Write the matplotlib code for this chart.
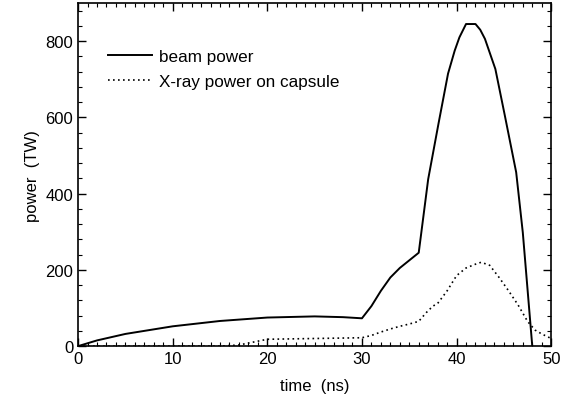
import matplotlib
matplotlib.use("Agg")
import matplotlib.pyplot as plt
from matplotlib.ticker import MultipleLocator

plt.rcParams['font.family'] = ['Liberation Sans', 'DejaVu Sans']

beam_t = [0, 2, 5, 10, 15, 20, 25, 28, 30, 31, 32, 33, 34, 35, 36, 37, 38.1, 39.1, 39.8, 40.3, 41, 42, 42.5, 43, 44.1, 45.1, 46.3, 47, 48]
beam_p = [0, 15, 32, 52, 66, 75, 78, 76, 73, 105, 145, 180, 205, 225, 245, 438, 585, 715, 775, 810, 845, 845, 830, 806, 727, 605, 456, 298, 0]

xray_t = [0, 15, 17, 19, 20, 25, 30, 31, 32, 33, 34, 35, 36, 36.8, 37.5, 38, 39, 40, 41, 42, 42.6, 43.5, 44.5, 45.5, 46.5, 47.5, 48.3, 49, 50]
xray_p = [0, 0, 3, 13, 18, 20, 22, 28, 37, 45, 52, 58, 65, 88, 105, 112, 145, 185, 205, 215, 220, 212, 180, 145, 108, 65, 42, 32, 20]

fig = plt.figure(figsize=(5.7, 4.06), dpi=100)
ax = fig.add_axes([0.137, 0.145, 0.830, 0.845])

ax.plot(beam_t, beam_p, color='black', lw=1.4, label='beam power')
ax.plot(xray_t, xray_p, color='black', lw=1.2, linestyle=(0, (1, 2)), label='X-ray power on capsule')

ax.set_xlim(0, 50)
ax.set_ylim(0, 900)
ax.xaxis.set_major_locator(MultipleLocator(10))
ax.xaxis.set_minor_locator(MultipleLocator(1))
ax.yaxis.set_major_locator(MultipleLocator(200))
ax.yaxis.set_minor_locator(MultipleLocator(40))
ax.tick_params(which='both', direction='in', top=True, right=True, labelsize=12)
ax.tick_params(which='major', length=6, width=1)
ax.tick_params(which='minor', length=3, width=0.8)
for s in ax.spines.values():
    s.set_linewidth(1.2)

ax.set_xlabel('time  (ns)', fontsize=12, labelpad=9)
ax.set_ylabel('power  (TW)', fontsize=12, labelpad=4)

leg = ax.legend(loc='upper left', bbox_to_anchor=(0.03, 0.91), frameon=False,
                fontsize=12.3, handlelength=2.6, handletextpad=0.4, labelspacing=0.55)

fig.savefig('out.png', dpi=100)
